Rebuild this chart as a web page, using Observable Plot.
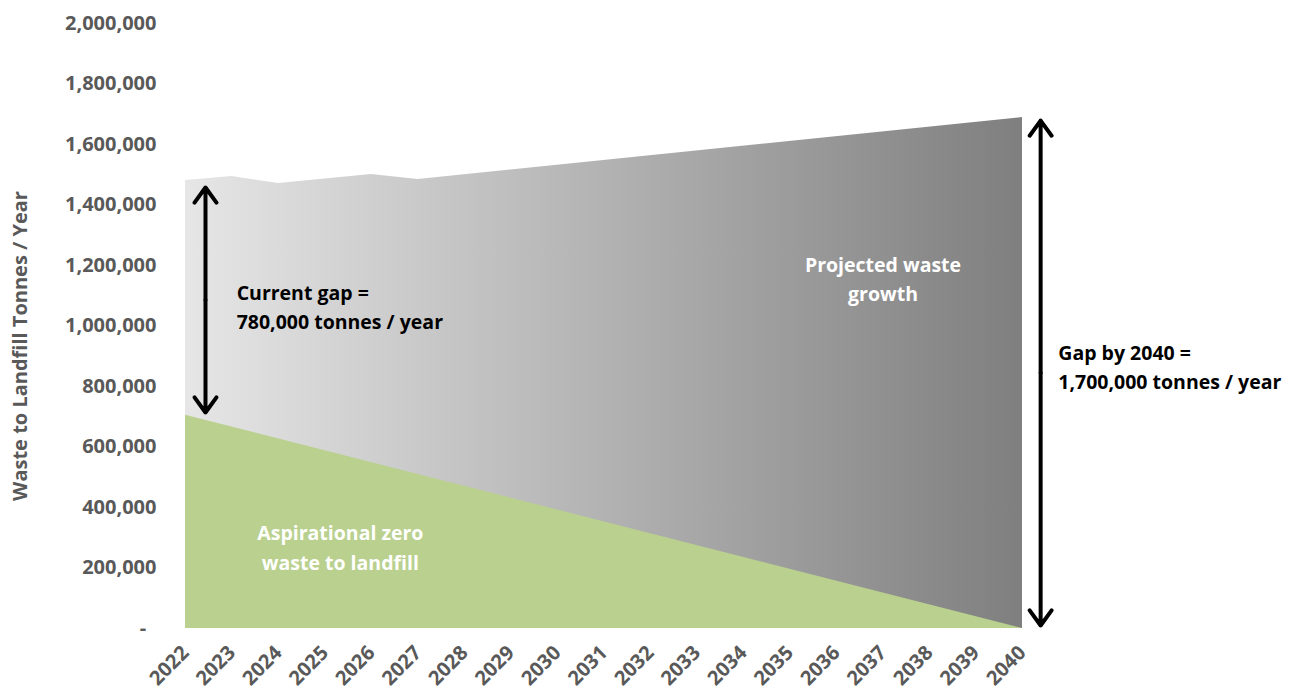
<!DOCTYPE html>
<html><head><meta charset="utf-8">
<script src="https://cdn.jsdelivr.net/npm/d3@7"></script>
<script src="https://cdn.jsdelivr.net/npm/@observablehq/plot@0.6"></script>
<style>body{margin:0;background:#fff;overflow:hidden;}</style>
</head><body><div id="chart"></div>
<script>
// Tick labels
const years = [2022,2023,2024,2025,2026,2027,2028,2029,2030,2031,2032,2033,2034,2035,2036,2037,2038,2039,2040];
const yTicks = [0,200000,400000,600000,800000,1000000,1200000,1400000,1600000,1800000,2000000];
// Projected waste to landfill (tonnes/year)
const wasteYears = [2022,2023,2024,2025,2026,2027,2040];
const wasteValues = [1481000,1494000,1471000,1486000,1501000,1484000,1689000];
// Aspirational zero waste to landfill
const zeroYears = [2022,2040];
const zeroValues = [705000,0];
// Gap arrows
const arrowX = [2022.43, 2022.43, 2040.39, 2040.39];
const arrowFrom = [1086000, 1086000, 845000, 845000];
const arrowTo = [1458000, 714000, 1679000, 10000];
// Annotation labels
const labelText = ["Current gap =\n780,000 tonnes / year", "Projected waste\ngrowth", "Gap by 2040 =\n1,700,000 tonnes / year", "Aspirational zero\nwaste to landfill"];
const labelX = [2023.1, 2037, 2040.77, 2025.33];
const labelY = [1068000, 1162000, 870000, 274000];
const labelColor = ["black", "white", "black", "white"];
const labelAnchor = ["start", "middle", "start", "middle"];
const yTitle = "Waste to Landfill Tonnes / Year";

const waste = wasteYears.map((x, i) => ({x, y: wasteValues[i]}));
const zero = zeroYears.map((x, i) => ({x, y: zeroValues[i]}));
const arrows = arrowX.map((x, i) => ({x, y1: arrowFrom[i], y2: arrowTo[i]}));
const labels = labelText.map((t, i) => ({t, x: labelX[i], y: labelY[i], c: labelColor[i], a: labelAnchor[i]}));

const grey = "#595959";
const chart = Plot.plot({
  width: 1301,
  height: 695,
  marginLeft: 185,
  marginRight: 279,
  marginTop: 23,
  marginBottom: 67,
  style: {fontFamily: "'Open Sans', sans-serif", background: "white"},
  x: {type: "linear", domain: [2022, 2040]},
  y: {domain: [0, 2000000]},
  marks: [
    Plot.areaY(waste, {x: "x", y: "y", fill: "url(#wasteGrad)"}),
    Plot.areaY(zero, {x: "x", y: "y", fill: "#b9d08e"}),
    Plot.arrow(arrows, {x: "x", y1: "y1", y2: "y2", stroke: "black", strokeWidth: 4, headLength: 7, headAngle: 72}),
    ...["start", "middle"].map(a => Plot.text(labels.filter(d => d.a === a), {
      x: "x", y: "y", text: "t", fill: "c", textAnchor: a, fontSize: 19.5, fontWeight: "bold", lineHeight: 1.5
    })),
    Plot.axisY({ticks: yTicks, tickFormat: d => d === 0 ? "-\u00a0\u00a0" : d3.format(",")(d), tickSize: 0, tickPadding: 29, fontSize: 20, fontWeight: "bold", fill: grey, label: null}),
    Plot.axisX({ticks: years, tickFormat: d => String(d), tickRotate: -45, tickSize: 0, tickPadding: 21, fontSize: 20, fontWeight: "bold", fill: grey, label: null}),
    Plot.text([yTitle], {frameAnchor: "left", textAnchor: "middle", rotate: -90, dx: -165, dy: 20, fontSize: 20, fontWeight: "bold", fill: grey})
  ]
});
const ns = "http://www.w3.org/2000/svg";
const defs = document.createElementNS(ns, "defs");
defs.innerHTML = '<linearGradient id="wasteGrad" x1="0" x2="1" y1="0" y2="0"><stop offset="0" stop-color="#e6e6e6"/><stop offset="1" stop-color="#7f7f7f"/></linearGradient>';
chart.insertBefore(defs, chart.firstChild);
document.getElementById("chart").appendChild(chart);
</script>
</body></html>
